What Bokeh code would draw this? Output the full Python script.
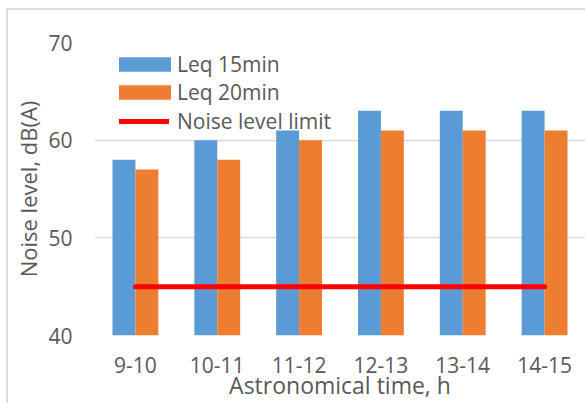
from bokeh.plotting import figure
from bokeh.models import FactorRange, Range1d, Legend, LegendItem, FixedTicker, InlineStyleSheet
from bokeh.transform import dodge
from bokeh.embed import file_html
from bokeh.resources import INLINE

categories = ["9-10", "10-11", "11-12", "12-13", "13-14", "14-15"]
leq15 = [58, 60, 61, 63, 63, 63]
leq20 = [57, 58, 60, 61, 61, 61]
limit = [45, 45, 45, 45, 45, 45]
y_ticks = [40, 50, 60, 70]

BLUE = "#5B9BD5"
ORANGE = "#ED7D31"
RED = "#FF0000"
TXT = "#595959"
GRID = "#D9D9D9"
FONT = "Open Sans"

p = figure(
    x_range=FactorRange(*categories, range_padding=0),
    y_range=Range1d(40, 70),
    width=585, height=403,
    output_backend="svg", toolbar_location=None,
    min_border_left=94, min_border_right=0, min_border_top=42, min_border_bottom=67,
)
p.outline_line_color = None
p.background_fill_color = "white"
p.border_fill_color = "white"

src = dict(cat=categories, a=leq15, b=leq20, lim=limit)
r1 = p.vbar(x=dodge("cat", -0.14, range=p.x_range), top="a", bottom=40, width=0.28,
            source=src, fill_color=BLUE, line_color=None)
r2 = p.vbar(x=dodge("cat", 0.14, range=p.x_range), top="b", bottom=40, width=0.28,
            source=src, fill_color=ORANGE, line_color=None)
r3 = p.line(x="cat", y="lim", source=src, line_color=RED, line_width=5, line_cap="round")

p.xgrid.grid_line_color = None
p.ygrid.grid_line_color = GRID
p.ygrid.grid_line_width = 1.5
p.yaxis.ticker = FixedTicker(ticks=y_ticks)

for ax in (p.xaxis[0], p.yaxis[0]):
    ax.axis_line_color = None
    ax.major_tick_line_color = None
    ax.minor_tick_line_color = None
    ax.major_tick_out = 0
    ax.major_tick_in = 0
    ax.minor_tick_out = 0
    ax.minor_tick_in = 0
    ax.major_label_text_font = FONT
    ax.major_label_text_color = TXT
    ax.axis_label_text_font = FONT
    ax.axis_label_text_color = TXT
    ax.axis_label_text_font_style = "normal"

p.yaxis.major_label_text_font_size = "21px"
p.yaxis.major_label_standoff = 22
p.yaxis.axis_label = "Noise level, dB(A)"
p.yaxis.axis_label_text_font_size = "22px"
p.yaxis.axis_label_standoff = 2

p.xaxis.major_label_text_font_size = "21px"
p.xaxis.major_label_standoff = 21
p.xaxis.axis_label = "Astronomical time, h"
p.xaxis.axis_label_text_font_size = "23px"
p.xaxis.axis_label_standoff = -7

common = dict(margin=0, padding=0, spacing=0,
              label_text_font=FONT, label_text_font_size="21px", label_text_color=TXT,
              background_fill_alpha=0, border_line_color=None)

legend_bars = Legend(
    items=[LegendItem(label="Leq 15min", renderers=[r1]),
           LegendItem(label="Leq 20min", renderers=[r2])],
    location=(18, 229), glyph_width=65, glyph_height=18, label_standoff=0, **common)
legend_line = Legend(
    items=[LegendItem(label="Noise level limit", renderers=[r3])],
    location=(25, 200), glyph_width=50, glyph_height=18, label_standoff=8, **common)
p.add_layout(legend_bars)
p.add_layout(legend_line)

p.stylesheets = [InlineStyleSheet(css=(
    ":host { position: relative; }"
    ":host::after { content: ''; position: absolute; left: 6px; top: 8px; right: 0; bottom: 0;"
    " border-top: 2px solid #DDDDDD; border-left: 2px solid #DDDDDD; pointer-events: none; }"
))]

open("out.html", "w").write(file_html(p, INLINE))
